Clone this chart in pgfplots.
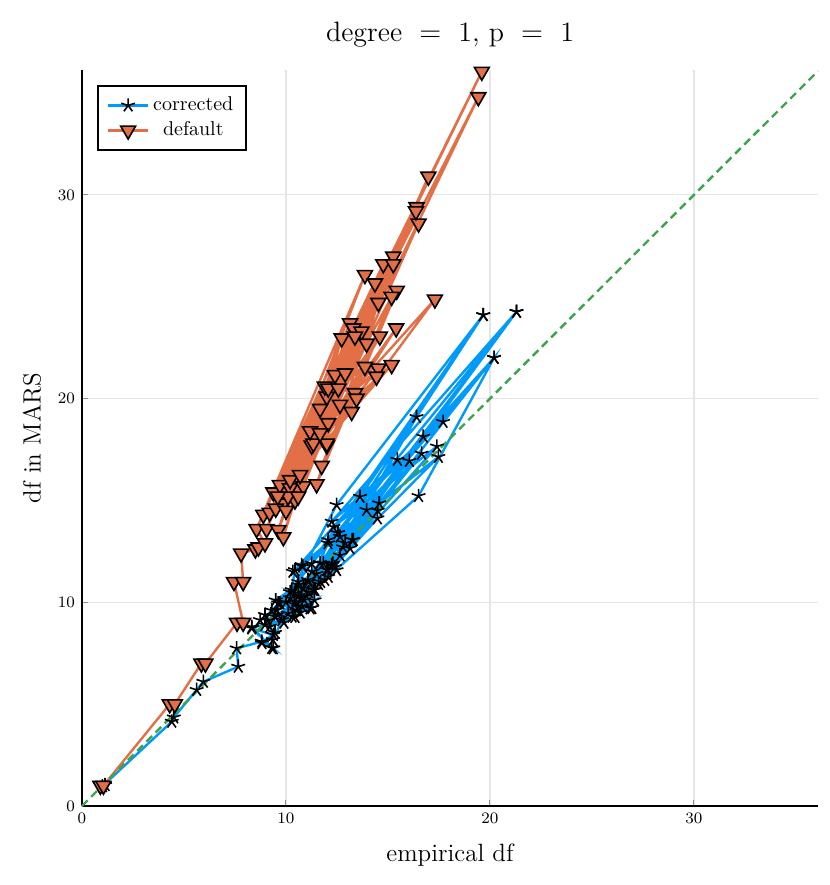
\documentclass[border=0pt]{standalone}
\usepackage{pgfplots}
\pgfplotsset{compat=1.18}
\definecolor{jblue}{HTML}{009AFA}
\definecolor{jorange}{HTML}{E26F46}
\definecolor{jgreen}{HTML}{3DA44D}
\begin{document}
\begin{tikzpicture}
\useasboundingbox (-41pt,-39.5pt) rectangle (374pt,403pt);
\begin{axis}[
  at={(0,0)}, anchor=south west,
  scale only axis, width=368pt, height=368pt,
  xmin=0, xmax=36.08, ymin=0, ymax=36.13,
  clip=false,
  axis x line*=bottom, axis y line*=left,
  axis line style={line width=1pt, black, -},
  xtick={0,10,20,30}, ytick={0,10,20,30},
  tick align=inside, major tick length=3pt,
  tick style={black!45, line width=0.5pt},
  grid=major, major grid style={black!10, line width=0.6pt},
  ticklabel style={font=\fontsize{8}{9}\selectfont},
  xlabel={empirical df}, ylabel={df in MARS},
  label style={font=\fontsize{12.5}{14}\selectfont},
  xlabel style={at={(axis description cs:0.5,-0.0666)}, anchor=center},
  ylabel style={at={(axis description cs:-0.068,0.5)}, anchor=center},
  title={degree $\;=\;$ 1, p $\;=\;$ 1},
  every axis title shift=0pt,
  title style={at={(axis description cs:0.5,1)}, anchor=base, yshift=14.5pt, font=\fontsize{14}{17}\selectfont},
  legend style={at={(axis description cs:0.0204,0.9796)}, anchor=north west, draw=black, line width=1pt, font=\fontsize{10}{12}\selectfont, inner xsep=4.5pt, inner ysep=3.5pt, row sep=0pt},
  legend cell align=center,
  legend image code/.code={\draw[mark repeat=2,mark phase=2,#1] plot coordinates {(0cm,0cm) (0.35cm,0cm) (0.7cm,0cm)};},
]
\addplot[jblue, line width=1.2pt, mark=star, mark size=3.6pt, mark options={draw=black, line width=0.8pt, solid}] coordinates {
(1.13,1.03) (1.0,0.97) (4.4,4.14) (4.5,4.35) (5.62,5.7) (5.95,6.1) (7.66,6.84) (7.58,7.74)
(8.81,8.07) (9.38,7.74) (8.32,8.72) (9.38,8.4) (8.97,9.38) (11.18,9.7) (9.2,8.8) (9.46,9.29)
(10.11,9.45) (9.1,9.1) (10.52,9.62) (9.7,9.95) (12.48,11.58) (9.3,9.6) (10.28,10.6) (13.3,13.06)
(10.0,10.0) (12.48,14.78) (19.67,24.1) (10.4,9.9) (10.85,10.68) (13.14,12.65) (9.5,10.1) (11.34,10.6)
(14.48,14.12) (10.6,10.3) (12.07,11.25) (16.5,15.22) (20.2,22.0) (10.2,10.2) (10.44,11.58) (13.63,15.18)
(19.67,24.1) (10.6,11.0) (11.0,10.3) (12.65,13.22) (10.77,11.83) (13.95,14.53) (11.1,11.0) (15.46,17.0)
(11.26,11.9) (21.3,24.26) (11.5,11.4) (12.07,13.06) (16.05,16.94) (11.83,11.9) (14.57,14.86) (17.47,17.14)
(12.24,11.83) (16.4,19.1) (11.7,11.0) (16.73,18.13) (20.2,22.0) (12.0,11.6) (16.65,17.3) (12.65,12.3)
(17.4,17.65) (12.32,13.7) (17.7,18.86) (12.24,13.96) (21.3,24.26) (12.8,12.7) (10.9,10.1) (10.3,9.3)
(9.9,9.0) (10.5,10.0) (9.6,9.4) (10.8,9.8) (11.4,10.1) (10.7,9.5) (11.6,10.9) (12.3,11.9) (11.1,10.5)
(8.73,9.13) (9.55,9.62) (9.62,9.95) (10.44,10.45) (10.78,10.26) (10.2,10.5) (11.27,9.72) (11.42,10.6)
(10.34,11.5) (10.82,11.75) (11.27,11.5) (11.67,11.93) (12.06,11.58) (12.4,11.73) (11.08,11.1) (11.9,11.1)
(10.6,10.85) (9.36,8.15) (9.46,8.5) (8.82,8.0) (9.3,7.76) (8.33,8.79) (8.97,8.89) (9.8,9.13)
(10.44,9.28) (10.6,9.77) (12.06,12.9) (12.9,12.9) (13.24,13.06) (12.55,13.4) (14.5,14.5)
};
\addlegendentry{corrected}
\addplot[jorange, line width=1.2pt, mark=triangle*, mark size=4.3pt, mark options={rotate=180, fill=jorange, draw=black, line width=0.8pt, solid}] coordinates {
(0.9,1.0) (1.05,1.0) (4.3,5.0) (4.55,5.0) (5.85,7.0) (6.05,7.0) (7.6,9.0) (7.9,9.0)
(7.45,11.0) (7.9,11.0) (7.8,12.4) (8.5,12.6) (8.65,12.7) (8.97,12.9) (8.56,13.6) (13.87,26.07)
(9.05,13.6) (14.36,25.66) (9.62,13.55) (12.73,22.96) (9.87,13.2) (13.14,23.7) (8.89,14.3) (14.77,26.6)
(9.2,14.4) (16.4,29.4) (9.38,15.4) (19.6,36.05) (9.7,15.76) (19.43,34.8) (9.87,14.86) (16.98,30.9)
(10.2,15.6) (15.26,26.97) (10.44,15.0) (16.5,28.6) (10.2,16.0) (15.26,26.6) (10.85,15.7) (16.37,29.2)
(10.69,16.25) (14.53,24.7) (11.5,15.8) (15.43,25.3) (11.75,16.7) (15.18,25.0) (11.26,17.7) (13.3,23.45)
(9.5,14.6) (13.7,23.3) (11.34,17.8) (13.38,23.05) (10.0,14.5) (13.95,22.7) (11.18,18.4) (14.6,23.05)
(10.1,15.2) (15.4,23.45) (12.07,18.8) (15.18,21.65) (9.6,15.2) (14.52,21.48) (12.65,19.7) (17.3,24.87)
(13.22,19.35) (14.44,21.08) (12.0,20.1) (13.87,21.56) (11.9,20.6) (10.6,15.2) (12.07,20.5) (12.57,20.5)
(13.38,20.27) (12.0,17.7) (13.46,20.0) (12.0,17.8) (12.4,21.16) (11.67,18.3) (12.9,21.24) (11.67,19.5)
};
\addlegendentry{default}
\addplot[jgreen, line width=1.2pt, dash pattern=on 4pt off 2.5pt, forget plot] coordinates {(0,0) (36.08,36.08)};
\end{axis}
\end{tikzpicture}
\end{document}
